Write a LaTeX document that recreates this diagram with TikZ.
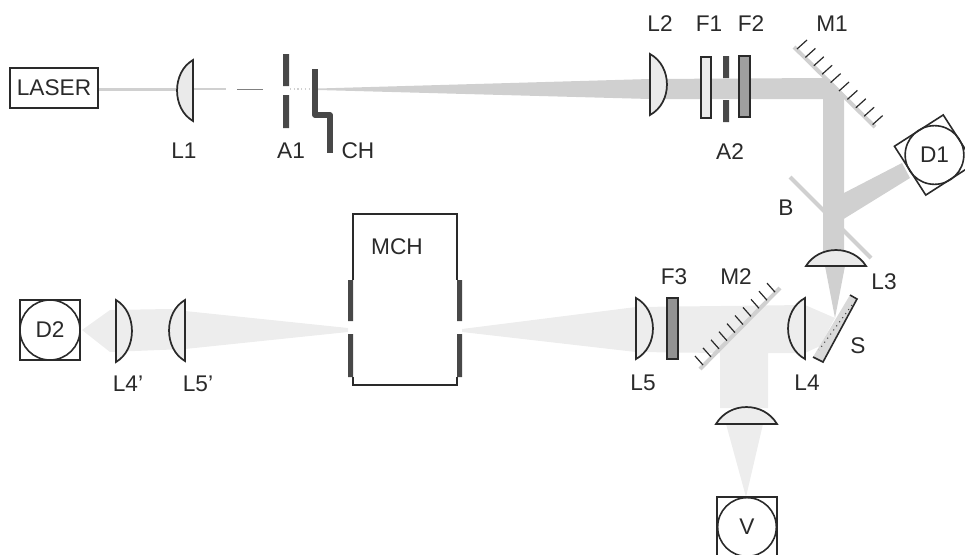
\documentclass[tikz,border=0pt]{standalone}
\usepackage{fontspec}
\setmainfont{Liberation Sans}
\definecolor{beamA}{HTML}{D0D0D0}
\definecolor{beamB}{HTML}{EDEDED}
\definecolor{ink}{HTML}{2A2A2A}
\definecolor{darkbar}{HTML}{484848}
\tikzset{
  x=0.75pt,y=-0.75pt,
  lab/.style={inner sep=0pt,text=ink,font=\fontsize{17}{19}\selectfont},
  lens/.style={draw=ink,line width=1.3pt,fill=#1},
  lens/.default=lensfill,
  filt/.style={draw=ink,line width=1.1pt,fill=#1},
  outline/.style={draw=ink,line width=1.2pt},
  strip/.style={draw=#1,line width=3pt},
  tick/.style={draw=ink,line width=0.9pt},
}
\definecolor{lensfill}{HTML}{EAEAEA}
% vertical lens: flat x, top y, bottom y, apex x
\newcommand{\lensV}[5][lensfill]{%
  \draw[lens=#1] (#2,#3) .. controls ({#2+1.33*(#5-#2)},{#3+0.2*(#4-#3)}) and ({#2+1.33*(#5-#2)},{#4-0.2*(#4-#3)}) .. (#2,#4) -- cycle;}
% horizontal lens: flat y, left x, right x, apex y
\newcommand{\lensH}[5][lensfill]{%
  \draw[lens=#1] (#3,#2) .. controls ({#3+0.22*(#4-#3)},{#2+1.33*(#5-#2)}) and ({#4-0.22*(#4-#3)},{#2+1.33*(#5-#2)}) .. (#4,#2) -- cycle;}
\begin{document}
\begin{tikzpicture}
\useasboundingbox (0,0) rectangle (965,554);
\clip (0,0) rectangle (965,554);
% beams
\fill[beamA] (98,87.5) rectangle (177,90.5);
\fill[beamA] (193,88) rectangle (226,89.5);
\fill[gray] (237,88.6) rectangle (263,89.4);
\draw[beamA,line width=0.8pt,dotted] (290,89) -- (312,89);
\fill[beamA] (318,88.5) -- (650,79) -- (825,78) -- (844,97) -- (844,266) -- (823,266) -- (823,99) -- (650,99) -- (318,90) -- cycle;
\fill[beamA] (842,194) -- (902,163) -- (910,178) -- (842,220) -- cycle;
\fill[beamA] (825,266) -- (845,266) -- (835,318) -- cycle;
\fill[beamB] (835,318) -- (805,305) -- (636,307) -- (636,352) -- (720,353) -- (720,408) -- (768,408) -- (768,353) -- (805,353) -- (820,346) -- cycle;
\fill[beamB] (726,424) -- (763,424) -- (746,497) -- cycle;
\fill[beamB] (636,307) -- (462,329) -- (462,332) -- (636,352) -- cycle;
\fill[beamB] (82,330) -- (110,310) -- (170,309) -- (185,311) -- (348,328) -- (348,332) -- (185,349) -- (110,352) -- cycle;
% laser
\node[draw=ink,line width=1.2pt,minimum width=66pt,minimum height=30pt,inner sep=0pt,text=ink,font=\fontsize{17}{19}\selectfont] (laser) at (54,88) {LASER};
% upper row
\lensV{193}{60}{121}{177}
\fill[darkbar] (283,54) rectangle (289,86) (283,95) rectangle (289,128);
\draw[draw=darkbar,line width=4.3pt,line join=round] (315,69) -- (315,115) -- (330,115) -- (330,153);
\lensV{650}{54}{115}{667}
\path[filt=lensfill] (701,57) rectangle (711,118);
\fill[darkbar] (723,56) rectangle (729,78) (723,100) rectangle (729,122);
\path[filt=gray!75] (739,56) rectangle (750,117);
% M1
\draw[strip=beamA] (794,47) -- (875,127);
\foreach \i in {0,...,9} \draw[tick] ({797+\i*8.4},{49+\i*8.4}) -- ++(10,-9);
% D1
\node[rectangle,draw=ink,line width=1.2pt,minimum size=43.5pt,inner sep=0pt,rotate=32.7] (d1box) at (934.5,155) {};
\node[circle,outline,minimum size=44pt,inner sep=0pt,lab] (d1) at (934.5,155) {D1};
% B, L3
\draw[strip=beamA] (790,177) -- (871,258);
\lensH{266}{806}{866}{250}
% S
\path[fill=beamA!80] (850,295) -- (857,299) -- (823,362) -- (813,357) -- cycle;
\draw[draw=ink,line width=1.2pt] (850,295) -- (857,299) -- (823,362) -- (813,357);
\draw[draw=darkbar,line width=0.8pt,dash pattern=on 0.8pt off 3pt] (852,305) -- (819,350);
% M2, L4, L5, F3
\lensV[beamB]{805}{298}{359}{788}
\draw[strip=beamA] (700,369) -- (780,288);
\foreach \i in {0,...,9} \draw[tick] ({703+\i*8},{365-\i*8.1}) -- ++(-8,-9);
\path[filt=gray!85] (667,298) rectangle (678,359);
\lensV[beamB]{636}{298}{359}{653}
% bottom lens and V
\lensH[beamB]{424}{716}{777}{407}
\node[rectangle,outline,minimum size=45pt,inner sep=0pt] (vbox) at (747,527) {};
\node[circle,outline,minimum size=44pt,inner sep=0pt,lab] (v) at (747,527) {V};
% MCH
\path[draw=ink,line width=1.3pt] (353,280) -- (353,214) -- (457,214) -- (457,280);
\path[draw=ink,line width=1.3pt] (353,377) -- (353,385) -- (457,385) -- (457,377);
\fill[darkbar] (348,280) rectangle (353,321) (348,334) rectangle (353,377);
\fill[darkbar] (457,280) rectangle (462,321) (457,334) rectangle (462,377);
% left group
\lensV[beamB]{116}{300}{362}{132}
\lensV[beamB]{185}{300}{361}{169}
\node[rectangle,outline,minimum size=45pt,inner sep=0pt] (d2box) at (50,330) {};
\node[circle,outline,minimum size=45pt,inner sep=0pt,lab] (d2) at (50,330) {D2};
% labels
\node[lab] (tL1) at (184,151) {L1};
\node[lab] (tA1) at (291,151) {A1};
\node[lab] (tCH) at (358,151) {CH};
\node[lab] (tL2) at (660,24) {L2};
\node[lab] (tF1) at (709,24) {F1};
\node[lab] (tF2) at (751,24) {F2};
\node[lab] (tM1) at (832,24) {M1};
\node[lab] (tA2) at (730,152) {A2};
\node[lab] (tB) at (786,208) {B};
\node[lab] (tL3) at (884,282) {L3};
\node[lab] (tF3) at (674,277) {F3};
\node[lab] (tM2) at (736,277) {M2};
\node[lab] (tS) at (858,346) {S};
\node[lab] (tL4) at (807,383) {L4};
\node[lab] (tL5) at (643,383) {L5};
\node[lab] (tL4p) at (128,384) {L4'};
\node[lab] (tL5p) at (198,384) {L5'};
\node[lab] (tMCH) at (397,247) {MCH};
\end{tikzpicture}
\end{document}
